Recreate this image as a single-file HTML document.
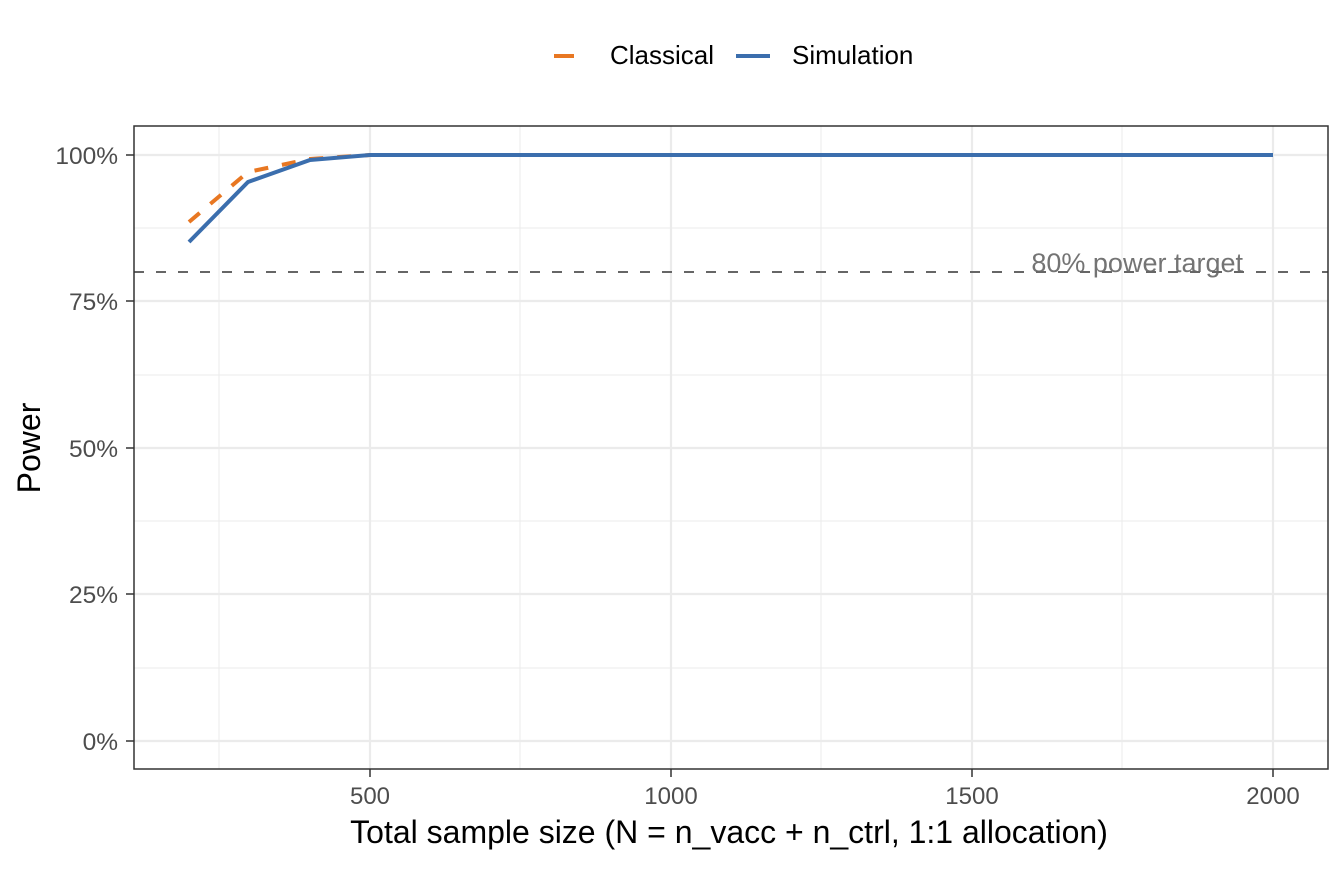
<!DOCTYPE html>
<html><head><style>body{margin:0;background:#fff}</style></head><body>
<svg width="1344" height="864" xmlns="http://www.w3.org/2000/svg" font-family="Liberation Sans, Arial, sans-serif">
<rect width="1344" height="864" fill="#fff"/>
<g stroke="#ebebeb" stroke-width="1">
<line x1="134" x2="1328" y1="228" y2="228"/><line x1="134" x2="1328" y1="375" y2="375"/><line x1="134" x2="1328" y1="521" y2="521"/><line x1="134" x2="1328" y1="668" y2="668"/>
<line x1="219" x2="219" y1="126" y2="769"/><line x1="520" x2="520" y1="126" y2="769"/><line x1="821" x2="821" y1="126" y2="769"/><line x1="1122" x2="1122" y1="126" y2="769"/>
</g>
<g stroke="#ebebeb" stroke-width="2.2">
<line x1="134" x2="1328" y1="155" y2="155"/><line x1="134" x2="1328" y1="301" y2="301"/><line x1="134" x2="1328" y1="448" y2="448"/><line x1="134" x2="1328" y1="594" y2="594"/><line x1="134" x2="1328" y1="741" y2="741"/>
<line x1="370" x2="370" y1="126" y2="769"/><line x1="671" x2="671" y1="126" y2="769"/><line x1="972" x2="972" y1="126" y2="769"/><line x1="1273" x2="1273" y1="126" y2="769"/>
</g>
<line x1="134" x2="1328" y1="272" y2="272" stroke="#666" stroke-width="2" stroke-dasharray="10,12"/>
<text x="1243" y="272" font-size="27" fill="#666" text-anchor="end" opacity="0.9">80% power target</text>
<polyline points="189,222 248,172 310,159 370,155 1273,155" fill="none" stroke="#e87722" stroke-width="4" stroke-dasharray="14,14"/>
<polyline points="189,242 248,182 310,160 370,155 1273,155" fill="none" stroke="#3b6ead" stroke-width="4"/>
<rect x="134" y="126" width="1194" height="643" fill="none" stroke="#333" stroke-width="1.5"/>
<g font-size="24.5" fill="#4d4d4d" text-anchor="end">
<text x="118" y="164">100%</text><text x="118" y="310">75%</text><text x="118" y="457">50%</text><text x="118" y="603">25%</text><text x="118" y="750">0%</text>
</g>
<g stroke="#333" stroke-width="1.5">
<line x1="126" x2="134" y1="155" y2="155"/><line x1="126" x2="134" y1="301" y2="301"/><line x1="126" x2="134" y1="448" y2="448"/><line x1="126" x2="134" y1="594" y2="594"/><line x1="126" x2="134" y1="741" y2="741"/>
<line x1="370" x2="370" y1="769" y2="777"/><line x1="671" x2="671" y1="769" y2="777"/><line x1="972" x2="972" y1="769" y2="777"/><line x1="1273" x2="1273" y1="769" y2="777"/>
</g>
<g font-size="24" fill="#4d4d4d" text-anchor="middle">
<text x="370" y="804">500</text><text x="671" y="804">1000</text><text x="972" y="804">1500</text><text x="1273" y="804">2000</text>
</g>
<text x="729" y="843" font-size="32" text-anchor="middle" fill="#000">Total sample size (N = n_vacc + n_ctrl, 1:1 allocation)</text>
<text transform="translate(40,448) rotate(-90)" font-size="32" text-anchor="middle" fill="#000">Power</text>
<line x1="554" x2="574" y1="56" y2="56" stroke="#e87722" stroke-width="4"/>
<text x="610" y="64" font-size="26" fill="#000">Classical</text>
<line x1="736" x2="770" y1="56" y2="56" stroke="#3b6ead" stroke-width="4"/>
<text x="792" y="64" font-size="26" fill="#000">Simulation</text>
</svg>
</body></html>
